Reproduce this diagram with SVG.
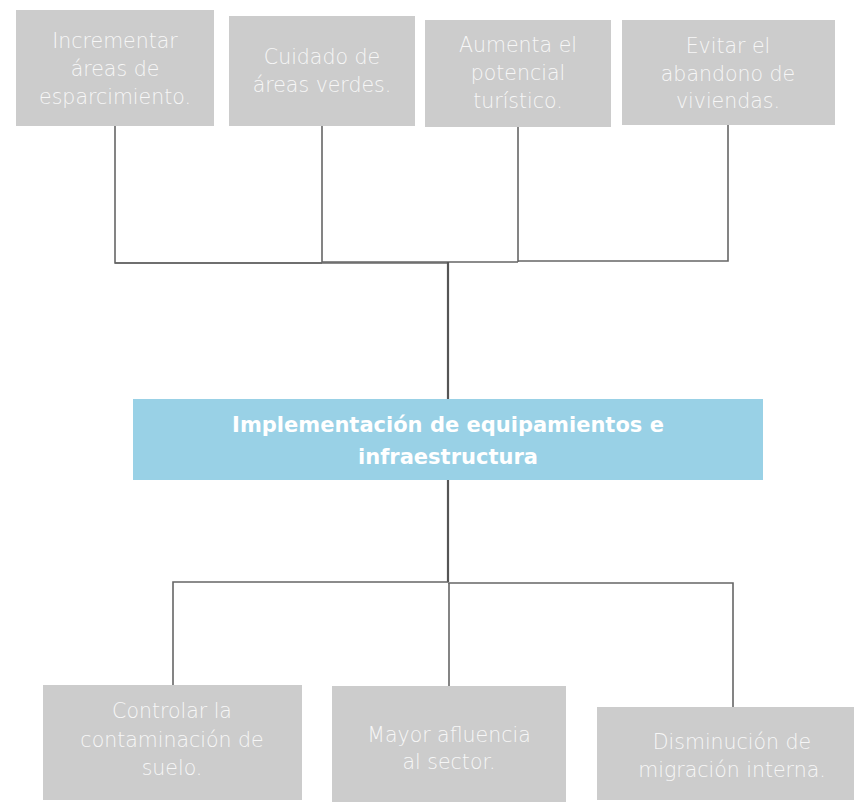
<svg xmlns="http://www.w3.org/2000/svg" width="854" height="803" viewBox="0 0 854 803">
<style>
.box{fill:#cccccc}
.main{fill:#99d1e6}
.t{font-family:"DejaVu Sans","Liberation Sans",sans-serif;font-size:20.5px;font-weight:200;fill:#f7f7f7;text-anchor:middle}
.tm{font-family:"DejaVu Sans","Liberation Sans",sans-serif;font-size:21px;font-weight:bold;fill:#ffffff;text-anchor:middle}
.c{fill:none;stroke:#666666;stroke-width:1.6}
.ct{fill:none;stroke:#555555;stroke-width:2.2}
</style>
<rect width="854" height="803" fill="#ffffff"/>
<g id="connectors">
<polyline class="c" points="115,126 115,263 322,263"/>
<polyline class="c" points="322,126 322,262 518,262"/>
<polyline class="c" points="518,127 518,262 518,261 728,261 728,125"/>
<line class="c" x1="115" y1="263" x2="449" y2="263"/>
<line class="ct" x1="448" y1="262" x2="448" y2="399"/>
<line class="ct" x1="448" y1="480" x2="448" y2="582"/>
<polyline class="c" points="173,685 173,582 448,582"/>
<polyline class="c" points="448,583 733,583 733,707"/>
<line class="c" x1="449" y1="583" x2="449" y2="686"/>
</g>
<g id="n1"><rect class="box" x="16" y="10" width="198" height="116"/>
<text class="t" x="115" y="48">Incrementar</text><text class="t" x="115" y="76">áreas de</text><text class="t" x="115" y="104">esparcimiento.</text></g>
<g id="n2"><rect class="box" x="229" y="16" width="186" height="110"/>
<text class="t" x="322" y="64">Cuidado de</text><text class="t" x="322" y="92">áreas verdes.</text></g>
<g id="n3"><rect class="box" x="425" y="20" width="186" height="107"/>
<text class="t" x="518" y="52">Aumenta el</text><text class="t" x="518" y="80">potencial</text><text class="t" x="518" y="108">turístico.</text></g>
<g id="n4"><rect class="box" x="622" y="20" width="213" height="105"/>
<text class="t" x="728" y="53">Evitar el</text><text class="t" x="728" y="81">abandono de</text><text class="t" x="728" y="108">viviendas.</text></g>
<g id="main"><rect class="main" x="133" y="399" width="630" height="81"/>
<text class="tm" x="448" y="432">Implementación de equipamientos e</text><text class="tm" x="448" y="464">infraestructura</text></g>
<g id="n5"><rect class="box" x="43" y="685" width="259" height="115"/>
<text class="t" x="172" y="718">Controlar la</text><text class="t" x="172" y="747">contaminación de</text><text class="t" x="172" y="775">suelo.</text></g>
<g id="n6"><rect class="box" x="332" y="686" width="234" height="116"/>
<text class="t" x="449" y="742">Mayor afluencia</text><text class="t" x="449" y="769">al sector.</text></g>
<g id="n7"><rect class="box" x="597" y="707" width="257" height="93"/>
<text class="t" x="732" y="749">Disminución de</text><text class="t" x="732" y="777">migración interna.</text></g>
</svg>
